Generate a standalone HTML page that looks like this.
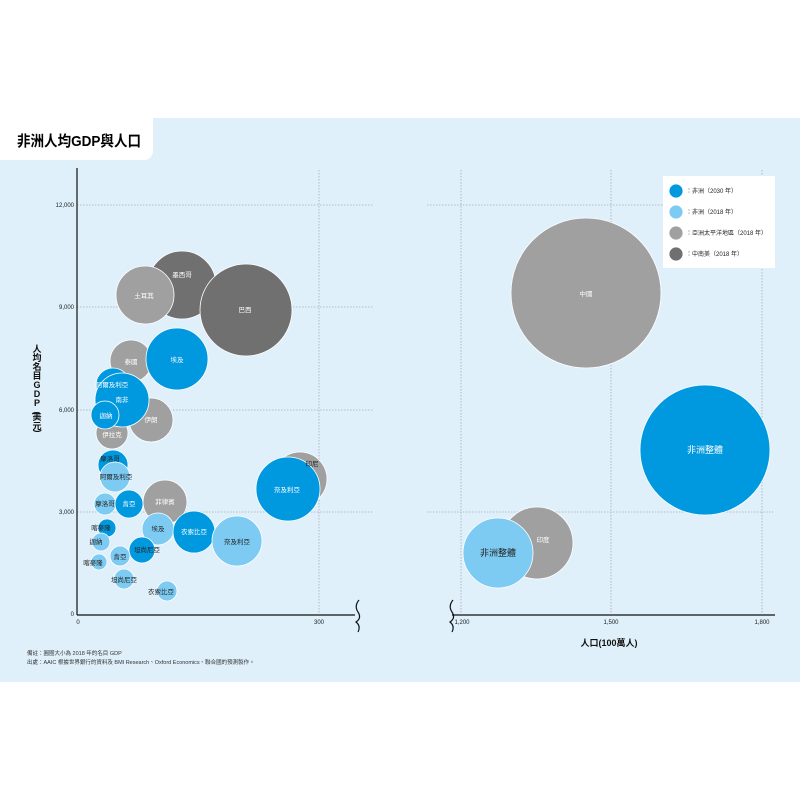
<!DOCTYPE html>
<html><head><meta charset="utf-8"><style>
html,body{margin:0;padding:0;background:#fff;width:800px;height:800px;overflow:hidden}
svg{display:block}
text{font-family:"Liberation Sans","Noto Sans CJK TC",sans-serif}
</style></head><body>
<svg width="800" height="800" viewBox="0 0 800 800" xmlns="http://www.w3.org/2000/svg">
<rect x="0" y="118" width="800" height="564" fill="#dff0fa"/>
<path d="M0 118 H153 V150 Q153 160 143 160 H0 Z" fill="#fff"/>
<text x="17" y="146" font-size="15" font-weight="bold" textLength="124" lengthAdjust="spacingAndGlyphs" font-family="'Noto Serif CJK SC','Liberation Serif',serif">非洲人均GDP與人口</text>
<g stroke="#aab" stroke-width="0.8" stroke-dasharray="1.5,1.5" fill="none">
<line x1="77" y1="205" x2="373" y2="205"/><line x1="77" y1="307" x2="373" y2="307"/>
<line x1="77" y1="410" x2="373" y2="410"/><line x1="77" y1="512" x2="373" y2="512"/>
<line x1="319" y1="170" x2="319" y2="614"/>
<line x1="427" y1="205" x2="775" y2="205"/><line x1="427" y1="512" x2="775" y2="512"/>
<line x1="461" y1="170" x2="461" y2="614"/><line x1="611" y1="170" x2="611" y2="614"/><line x1="762" y1="170" x2="762" y2="614"/>
</g>
<g stroke="#111" stroke-width="1.2" fill="none">
<line x1="77" y1="168" x2="77" y2="615"/><line x1="77" y1="615" x2="355" y2="615"/>
<line x1="452" y1="615" x2="775" y2="615"/>
<path d="M359 600 Q354 606 358 612 Q362 618 356 622 Q361 626 358 632"/>
<path d="M453 600 Q448 606 452 612 Q456 618 450 622 Q455 626 452 632"/>
</g>
<g font-size="6" fill="#222">
<text x="74" y="207" text-anchor="end">12,000</text><text x="74" y="309" text-anchor="end">9,000</text>
<text x="74" y="412" text-anchor="end">6,000</text><text x="74" y="514" text-anchor="end">3,000</text>
<text x="74" y="616" text-anchor="end">0</text>
<text x="78" y="624" text-anchor="middle">0</text><text x="319" y="624" text-anchor="middle">300</text>
<text x="462" y="624" text-anchor="middle">1,200</text><text x="611" y="624" text-anchor="middle">1,500</text><text x="762" y="624" text-anchor="middle">1,800</text>
</g>
<g stroke="#fff" stroke-width="0.8">
<circle cx="182" cy="285" r="34" fill="#707070"/>
<circle cx="246" cy="310" r="46" fill="#707070"/>
<circle cx="145" cy="295" r="29" fill="#a0a0a0"/>
<circle cx="131" cy="361" r="21" fill="#a0a0a0"/>
<circle cx="177" cy="359" r="31" fill="#0099e0"/>
<circle cx="151" cy="420" r="22" fill="#a0a0a0"/>
<circle cx="112" cy="433" r="16" fill="#a0a0a0"/>
<circle cx="113" cy="385" r="17" fill="#0099e0"/>
<circle cx="122" cy="400" r="27" fill="#0099e0"/>
<circle cx="105" cy="415" r="14" fill="#0099e0"/>
<circle cx="300" cy="479" r="27" fill="#a0a0a0"/>
<circle cx="288" cy="489" r="32" fill="#0099e0"/>
<circle cx="113" cy="465" r="15" fill="#0099e0"/>
<circle cx="115" cy="477" r="15" fill="#7dcbf2"/>
<circle cx="165" cy="502" r="22" fill="#a0a0a0"/>
<circle cx="105" cy="504" r="11" fill="#7dcbf2"/>
<circle cx="129" cy="504" r="14" fill="#0099e0"/>
<circle cx="158" cy="529" r="16" fill="#7dcbf2"/>
<circle cx="194" cy="532" r="21" fill="#0099e0"/>
<circle cx="237" cy="541" r="25" fill="#7dcbf2"/>
<circle cx="107" cy="528" r="9" fill="#0099e0"/>
<circle cx="101" cy="542" r="9" fill="#7dcbf2"/>
<circle cx="142" cy="550" r="13" fill="#0099e0"/>
<circle cx="120" cy="556" r="10" fill="#7dcbf2"/>
<circle cx="99" cy="562" r="8" fill="#7dcbf2"/>
<circle cx="124" cy="579" r="10" fill="#7dcbf2"/>
<circle cx="167" cy="591" r="10" fill="#7dcbf2"/>
<circle cx="586" cy="293" r="75" fill="#a0a0a0"/>
<circle cx="705" cy="450" r="65" fill="#0099e0"/>
<circle cx="537" cy="543" r="36" fill="#a0a0a0"/>
<circle cx="498" cy="553" r="35" fill="#7dcbf2"/>
</g>
<g font-size="6.5" fill="#fff" text-anchor="middle">
<text x="182" y="277">墨西哥</text><text x="245" y="312">巴西</text><text x="144" y="298">土耳其</text>
<text x="131" y="364">泰國</text><text x="177" y="362">埃及</text><text x="151" y="422">伊朗</text>
<text x="112" y="437">伊拉克</text><text x="112" y="387">阿爾及利亞</text><text x="122" y="402">南非</text>
<text x="106" y="418">迦納</text><text x="287" y="492">奈及利亞</text><text x="165" y="504">菲律賓</text>
<text x="129" y="506">肯亞</text><text x="194" y="534">衣索比亞</text><text x="705" y="453" font-size="9">非洲整體</text>
<text x="586" y="296">中國</text><text x="543" y="542">印度</text>
</g>
<g font-size="6.5" fill="#222" text-anchor="middle">
<text x="312" y="466">印尼</text><text x="110" y="461">摩洛哥</text><text x="116" y="479">阿爾及利亞</text>
<text x="105" y="506">摩洛哥</text><text x="158" y="531">埃及</text><text x="237" y="544">奈及利亞</text>
<text x="101" y="530">喀麥隆</text><text x="96" y="544">迦納</text><text x="147" y="552">坦尚尼亞</text>
<text x="120" y="559">肯亞</text><text x="93" y="565">喀麥隆</text><text x="124" y="582">坦尚尼亞</text>
<text x="161" y="594">衣索比亞</text><text x="498" y="556" font-size="9">非洲整體</text>
</g>
<rect x="663" y="176" width="112" height="92" fill="#fff"/>
<g stroke="#fff" stroke-width="0.8">
<circle cx="676" cy="191" r="7" fill="#0099e0"/><circle cx="676" cy="212" r="7" fill="#7dcbf2"/>
<circle cx="676" cy="233" r="7" fill="#a0a0a0"/><circle cx="676" cy="254" r="7" fill="#707070"/>
</g>
<g font-size="6" fill="#222">
<text x="686" y="193">：非洲（2030 年）</text><text x="686" y="214">：非洲（2018 年）</text>
<text x="686" y="235">：亞洲太平洋地區（2018 年）</text><text x="686" y="256">：中南美（2018 年）</text>
</g>
<g font-size="9" font-weight="bold" fill="#111" text-anchor="middle">
<text x="37" y="352">人</text><text x="37" y="361">均</text><text x="37" y="370">名</text><text x="37" y="379">目</text>
<text x="37" y="388">G</text><text x="37" y="397">D</text><text x="37" y="406">P</text>
<text x="37" y="416" transform="rotate(90 37 413)">(</text><text x="37" y="420">美</text><text x="37" y="429">元</text>
<text x="37" y="433" transform="rotate(90 37 431)">)</text>
</g>
<text x="609" y="646" font-size="9" font-weight="bold" fill="#111" text-anchor="middle">人口(100萬人)</text>
<g font-size="5.5" fill="#333">
<text x="27" y="655">備註：圓圈大小為 2018 年的名目 GDP</text>
<text x="27" y="664">出處：AAIC 根據世界銀行的資料及 BMI Research、Oxford Economics、聯合國的預測製作。</text>
</g>
</svg>
</body></html>
